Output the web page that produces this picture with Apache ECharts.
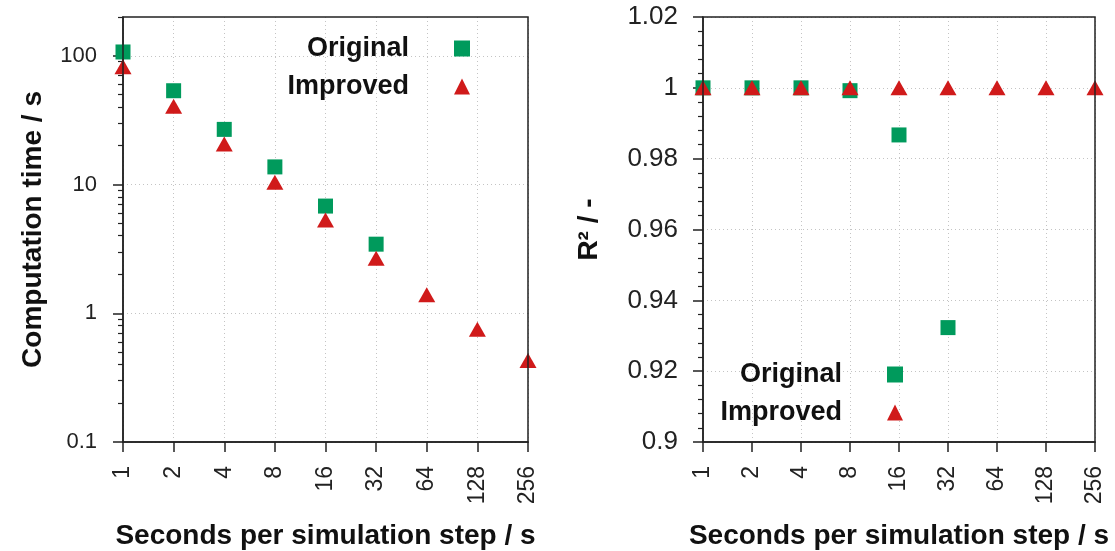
<!DOCTYPE html>
<html>
<head>
<meta charset="utf-8">
<script src="https://cdn.jsdelivr.net/npm/echarts@6/dist/echarts.min.js"></script>
<style>
  html, body { margin: 0; padding: 0; background: #fff; }
  #chart { width: 1115px; height: 551px; }
</style>
</head>
<body>
<div id="chart"></div>
<script>
// seconds per simulation step (x categories, both panels)
const steps = ['1', '2', '4', '8', '16', '32', '64', '128', '256']

// left panel: computation time / s
const timeOriginal = [107, 53.5, 26.8, 13.7, 6.8, 3.44]
const timeImproved = [82, 40.6, 20.6, 10.4, 5.3, 2.67, 1.39, 0.75, 0.43]
const timeTicks = [0.1, 1, 10, 100]
const timeMinorTicks = [0.2, 0.3, 0.4, 0.5, 0.6, 0.7, 0.8, 0.9,
  2, 3, 4, 5, 6, 7, 8, 9, 20, 30, 40, 50, 60, 70, 80, 90, 200]

// right panel: R² / -
const r2Original = [1.0, 1.0, 1.0, 0.9992, 0.9867, 0.9323]
const r2Improved = [1.0, 1.0, 1.0, 1.0, 1.0, 1.0, 1.0, 1.0, 1.0]

const green = '#009a5c'
const red = '#d01a1a'
const dark = '#222'
const titleFont = { fontFamily: 'Liberation Sans', fontWeight: 'bold', fontSize: 28, color: '#111' }
const tickFont = { fontFamily: 'Liberation Sans', color: dark }

const dotted = { show: true, lineStyle: { color: '#c4c4c4', type: [1, 3], width: 1 } }
const axisLine = { show: true, lineStyle: { color: dark, width: 1.5 } }

const xAxisBase = (gridIndex) => ({
  type: 'category',
  gridIndex,
  data: steps,
  boundaryGap: false,
  name: 'Seconds per simulation step / s',
  nameLocation: 'middle',
  nameGap: 80,
  nameTextStyle: titleFont,
  axisLine,
  axisTick: { show: true, alignWithLabel: true, length: 10, lineStyle: { color: dark, width: 1.5 } },
  axisLabel: { ...tickFont, fontSize: 23, rotate: 90, margin: 24, interval: 0 },
  splitLine: dotted
})

const legendBase = (right, top) => ({
  data: ['Original', 'Improved'],
  orient: 'vertical',
  right,
  top,
  align: 'right',
  itemGap: 11,
  itemWidth: 16,
  itemHeight: 16,
  selectedMode: false,
  textStyle: { ...titleFont, fontSize: 27, padding: [0, 40, 0, 0] }
})

const chart = echarts.init(document.getElementById('chart'))

chart.setOption({
  animation: false,
  grid: [
    {
      left: 123, top: 17, width: 405, height: 425, outerBoundsMode: 'none',
      show: true, borderColor: dark, borderWidth: 1.5, z: 5
    },
    {
      left: 703, top: 17, width: 392, height: 425, outerBoundsMode: 'none',
      show: true, borderColor: dark, borderWidth: 1.5, z: 5
    }
  ],
  legend: [legendBase(640, 30), legendBase(207, 356)],
  xAxis: [xAxisBase(0), xAxisBase(1)],
  yAxis: [
    {
      type: 'log',
      gridIndex: 0,
      min: 0.1,
      max: 200,
      position: 'left',
      name: 'Computation time / s',
      nameLocation: 'middle',
      nameGap: 76,
      nameTextStyle: titleFont,
      axisLine,
      axisTick: { show: true, customValues: timeTicks, length: 10, lineStyle: { color: dark, width: 1.5 } },
      axisLabel: { ...tickFont, fontSize: 22, customValues: timeTicks, margin: 26 },
      splitLine: dotted
    },
    {
      // minor ticks of the log axis, pushed over onto the left edge
      type: 'log',
      gridIndex: 0,
      min: 0.1,
      max: 200,
      position: 'right',
      offset: -405,
      axisLine: { show: false },
      axisTick: {
        show: true, inside: true, customValues: timeMinorTicks, length: 5,
        lineStyle: { color: dark, width: 1.2 }
      },
      axisLabel: { show: false },
      splitLine: { show: false }
    },
    {
      type: 'value',
      gridIndex: 1,
      min: 0.9,
      max: 1.02,
      interval: 0.02,
      name: 'R² / -',
      nameLocation: 'middle',
      nameGap: 100,
      nameTextStyle: titleFont,
      axisLine,
      axisTick: { show: true, length: 10, lineStyle: { color: dark, width: 1.5 } },
      minorTick: { show: true, splitNumber: 5, length: 5, lineStyle: { color: dark, width: 1.2 } },
      axisLabel: { ...tickFont, fontSize: 26, margin: 25 },
      splitLine: dotted
    }
  ],
  series: [
    {
      name: 'Original', type: 'scatter', xAxisIndex: 0, yAxisIndex: 0,
      data: timeOriginal, symbol: 'rect', symbolSize: 15, itemStyle: { color: green, opacity: 1 }, z: 2
    },
    {
      name: 'Improved', type: 'scatter', xAxisIndex: 0, yAxisIndex: 0,
      data: timeImproved, symbol: 'triangle', symbolSize: [17, 15], itemStyle: { color: red, opacity: 1 }, z: 3
    },
    {
      name: 'Original', type: 'scatter', xAxisIndex: 1, yAxisIndex: 2,
      data: r2Original, symbol: 'rect', symbolSize: 15, itemStyle: { color: green, opacity: 1 }, z: 2
    },
    {
      name: 'Improved', type: 'scatter', xAxisIndex: 1, yAxisIndex: 2,
      data: r2Improved, symbol: 'triangle', symbolSize: [17, 15], itemStyle: { color: red, opacity: 1 }, z: 3
    }
  ]
})
</script>
</body>
</html>
